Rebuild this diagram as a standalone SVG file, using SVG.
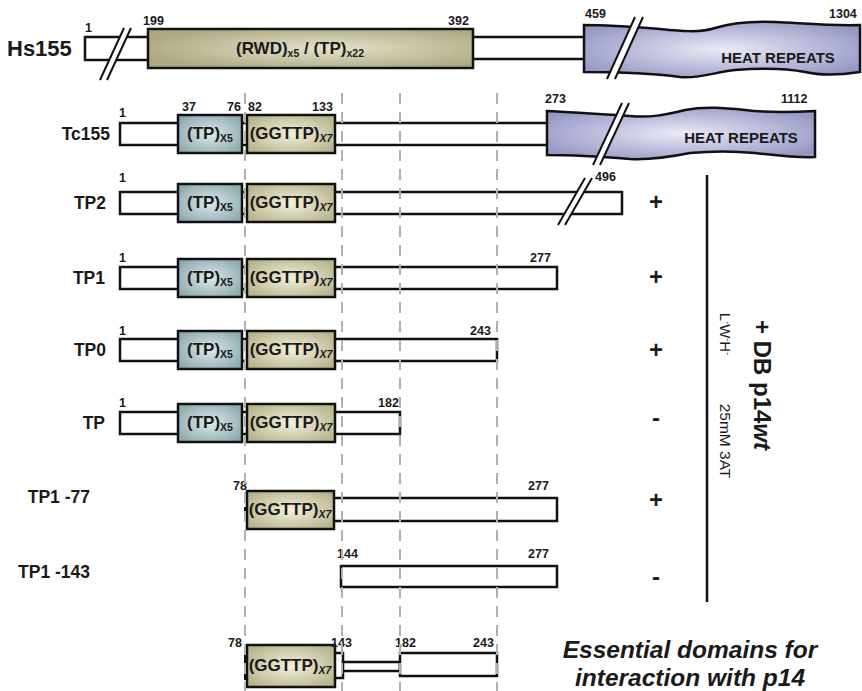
<svg xmlns="http://www.w3.org/2000/svg" width="862" height="691" viewBox="0 0 862 691">
<defs>
<radialGradient id="gTP" cx="0.5" cy="0.5" r="0.6"><stop offset="0" stop-color="#dceaec"/><stop offset="1" stop-color="#8eaaaf"/></radialGradient>
<radialGradient id="gGG" cx="0.5" cy="0.5" r="0.6"><stop offset="0" stop-color="#f2f1dc"/><stop offset="1" stop-color="#b9b48e"/></radialGradient>
<radialGradient id="gRWD" cx="0.55" cy="0.5" r="0.6"><stop offset="0" stop-color="#e4e2cb"/><stop offset="1" stop-color="#ada882"/></radialGradient>
<radialGradient id="gHeat" cx="0.5" cy="0.5" r="0.6"><stop offset="0" stop-color="#eaeaf6"/><stop offset="1" stop-color="#9597c4"/></radialGradient>
</defs>
<style>
.bar{fill:#fff;stroke:#111;stroke-width:2.5}
.tp{fill:url(#gTP);stroke:#111;stroke-width:2.5}
.gg{fill:url(#gGG);stroke:#111;stroke-width:2.5}
.rwd{fill:url(#gRWD);stroke:#111;stroke-width:2.5}
.heat{fill:url(#gHeat);stroke:#111;stroke-width:2.5}
.slw{fill:#fff;stroke:none}
.sl{stroke:#111;stroke-width:2;fill:none}
.dash{stroke:#b0b0b0;stroke-width:2;stroke-dasharray:11 8;fill:none}
.vline{stroke:#111;stroke-width:2.5}
text{font-family:"Liberation Sans",Arial,sans-serif;fill:#1a1a1a}
.num{font-size:12.5px;font-weight:bold}
.lbl{font-size:17.5px;font-weight:bold;text-anchor:end}
.dom{font-size:17px;font-weight:bold;text-anchor:middle}
.sub{font-size:10.5px}
.heatT{font-size:15px;font-weight:bold;text-anchor:middle}
.sign{font-size:24px;font-weight:bold;text-anchor:middle}
.ess{font-size:24.5px;font-weight:bold;font-style:italic;text-anchor:middle}
</style>

<g id="Hs155">
<text x="7" y="56" style="font-size:22px;font-weight:bold">Hs155</text>
<rect class="bar" x="85" y="37" width="70" height="23"/>
<rect class="bar" x="465" y="37" width="125" height="22"/>
<rect class="rwd" x="148" y="29" width="325" height="39"/>
<text class="dom" x="300" y="54">(RWD)<tspan class="sub" dy="3">x5</tspan><tspan dy="-3"> / (TP)</tspan><tspan class="sub" dy="3">x22</tspan></text>
<path class="heat" d="M584,25 C610,25 635,27 660,29 C680,31 700,33 715,28 C735,22 755,21 775,22 C800,23 830,26 860,25 L860,72 C840,75 822,76 805,72 C785,68 760,68 735,70 C715,72 700,79 680,77 C650,73 620,72 584,72 Z"/>
<polygon class="slw" points="607,79 615,79 643,17 635,17"/>
<line class="sl" x1="607" y1="79" x2="635" y2="17"/>
<line class="sl" x1="615" y1="79" x2="643" y2="17"/>
<polygon class="slw" points="100,80 107,80 131,28 124,28"/>
<line class="sl" x1="100" y1="80" x2="124" y2="28"/>
<line class="sl" x1="107" y1="80" x2="131" y2="28"/>
<text class="heatT" x="778" y="63">HEAT REPEATS</text>
<text class="num" x="85" y="32">1</text>
<text class="num" x="143" y="25">199</text>
<text class="num" x="448" y="25">392</text>
<text class="num" x="585" y="18">459</text>
<text class="num" x="829" y="18">1304</text>
</g>

<g id="Tc155">
<text class="lbl" x="110" y="140">Tc155</text>
<rect class="bar" x="120" y="123" width="432" height="22"/>
<rect class="tp" x="178" y="115" width="64" height="38"/>
<rect class="gg" x="247" y="115" width="88" height="38"/>
<text class="dom" x="210" y="139">(TP)<tspan class="sub" dy="3">X5</tspan></text>
<text class="dom" x="291" y="139">(GGTTP)<tspan class="sub" dy="3" font-style="italic">X7</tspan></text>
<path class="heat" d="M547,111 C570,112 600,114 630,116 C650,118 665,115 685,110 C705,106 725,108 745,110 C770,113 795,112 815,111 L815,157 C795,158 775,155 755,153 C735,151 710,151 690,153 C670,157 650,160 630,159 C605,157 575,155 547,155 Z"/>
<polygon class="slw" points="593,165 600,165 629,103 622,103"/>
<line class="sl" x1="593" y1="165" x2="622" y2="103"/>
<line class="sl" x1="600" y1="165" x2="629" y2="103"/>
<text class="heatT" x="741" y="143">HEAT REPEATS</text>
<text class="num" x="119" y="117">1</text>
<text class="num" x="182" y="111">37</text>
<text class="num" x="227" y="111">76</text>
<text class="num" x="248" y="111">82</text>
<text class="num" x="312" y="111">133</text>
<text class="num" x="545" y="103">273</text>
<text class="num" x="781" y="103">1112</text>
</g>

<g id="TP2">
<text class="lbl" x="106" y="209">TP2</text>
<rect class="bar" x="120" y="192" width="502" height="22"/>
<rect class="tp" x="178" y="184" width="64" height="38"/>
<rect class="gg" x="247" y="184" width="88" height="38"/>
<text class="dom" x="210" y="208">(TP)<tspan class="sub" dy="3">X5</tspan></text>
<text class="dom" x="291" y="208">(GGTTP)<tspan class="sub" dy="3" font-style="italic">X7</tspan></text>
<polygon class="slw" points="558,225 565,225 592,178 585,178"/>
<line class="sl" x1="558" y1="225" x2="585" y2="178"/>
<line class="sl" x1="565" y1="225" x2="592" y2="178"/>
<text class="num" x="119" y="182">1</text>
<text class="num" x="595" y="181">496</text>
</g>

<g id="TP1">
<text class="lbl" x="105" y="284">TP1</text>
<rect class="bar" x="120" y="267" width="437" height="22"/>
<rect class="tp" x="178" y="259" width="64" height="38"/>
<rect class="gg" x="247" y="259" width="88" height="38"/>
<text class="dom" x="210" y="283">(TP)<tspan class="sub" dy="3">X5</tspan></text>
<text class="dom" x="291" y="283">(GGTTP)<tspan class="sub" dy="3" font-style="italic">X7</tspan></text>
<text class="num" x="119" y="262">1</text>
<text class="num" x="530" y="262">277</text>
</g>

<g id="TP0">
<text class="lbl" x="106" y="356">TP0</text>
<rect class="bar" x="120" y="339" width="377" height="22"/>
<rect class="tp" x="178" y="331" width="64" height="38"/>
<rect class="gg" x="247" y="331" width="88" height="38"/>
<text class="dom" x="210" y="355">(TP)<tspan class="sub" dy="3">X5</tspan></text>
<text class="dom" x="291" y="355">(GGTTP)<tspan class="sub" dy="3" font-style="italic">X7</tspan></text>
<text class="num" x="119" y="335">1</text>
<text class="num" x="470" y="335">243</text>
</g>

<g id="TP">
<text class="lbl" x="105" y="429">TP</text>
<rect class="bar" x="120" y="412" width="280" height="22"/>
<rect class="tp" x="178" y="404" width="64" height="38"/>
<rect class="gg" x="247" y="404" width="88" height="38"/>
<text class="dom" x="210" y="428">(TP)<tspan class="sub" dy="3">X5</tspan></text>
<text class="dom" x="291" y="428">(GGTTP)<tspan class="sub" dy="3" font-style="italic">X7</tspan></text>
<text class="num" x="119" y="407">1</text>
<text class="num" x="378" y="407">182</text>
</g>

<g id="TP1-77">
<text class="lbl" x="90" y="503">TP1 -77</text>
<rect class="bar" x="330" y="498" width="227" height="23"/>
<rect class="gg" x="247" y="491" width="87" height="38"/>
<rect x="244" y="507" width="4" height="9" fill="#111"/>
<text class="dom" x="290" y="515">(GGTTP)<tspan class="sub" dy="3" font-style="italic">X7</tspan></text>
<text class="num" x="233" y="490">78</text>
<text class="num" x="528" y="490">277</text>
</g>

<g id="TP1-143">
<text class="lbl" x="90" y="578">TP1 -143</text>
<rect class="bar" x="341" y="566" width="216" height="21"/>
<text class="num" x="337" y="558">144</text>
<text class="num" x="528" y="558">277</text>
</g>

<g id="essential">
<rect class="bar" x="333" y="653" width="10" height="25"/>
<rect class="bar" x="343" y="662" width="57" height="9"/>
<rect class="bar" x="400" y="653" width="97" height="23"/>
<rect class="gg" x="247" y="645" width="88" height="42"/>
<rect x="244" y="655" width="4" height="25" fill="#111"/>
<text class="dom" x="290" y="671">(GGTTP)<tspan class="sub" dy="3" font-style="italic">X7</tspan></text>
<text class="num" x="228" y="647">78</text>
<text class="num" x="331" y="647">143</text>
<text class="num" x="395" y="647">182</text>
<text class="num" x="473" y="647">243</text>
<text class="ess" x="690" y="658">Essential domains for</text>
<text class="ess" x="690" y="686">interaction with p14</text>
</g>

<g id="connectors">
<line class="dash" x1="245" y1="93" x2="245" y2="691"/>
<line class="dash" x1="342" y1="93" x2="342" y2="691"/>
<line class="dash" x1="400" y1="93" x2="400" y2="691"/>
<line class="dash" x1="497" y1="93" x2="497" y2="691"/>
</g>

<g id="results">
<text class="sign" x="656" y="210">+</text>
<text class="sign" x="656" y="285">+</text>
<text class="sign" x="656" y="358">+</text>
<text class="sign" x="656" y="426">-</text>
<text class="sign" x="656" y="508">+</text>
<text class="sign" x="656" y="585">-</text>
<line class="vline" x1="707" y1="175" x2="707" y2="602"/>
<text transform="translate(762,385) rotate(90)" x="0" y="8" style="font-size:24px;font-weight:bold;text-anchor:middle">+ DB p14<tspan font-style="italic">wt</tspan></text>
<text transform="translate(725,334) rotate(90)" x="0" y="5" style="font-size:15px;text-anchor:middle">L<tspan font-size="9" dy="-5">-</tspan><tspan dy="5">W</tspan><tspan font-size="9" dy="-5">-</tspan><tspan dy="5">H</tspan><tspan font-size="9" dy="-5">-</tspan></text>
<text transform="translate(725,441) rotate(90)" x="0" y="5" style="font-size:15.5px;text-anchor:middle">25mM 3AT</text>
</g>
</svg>
